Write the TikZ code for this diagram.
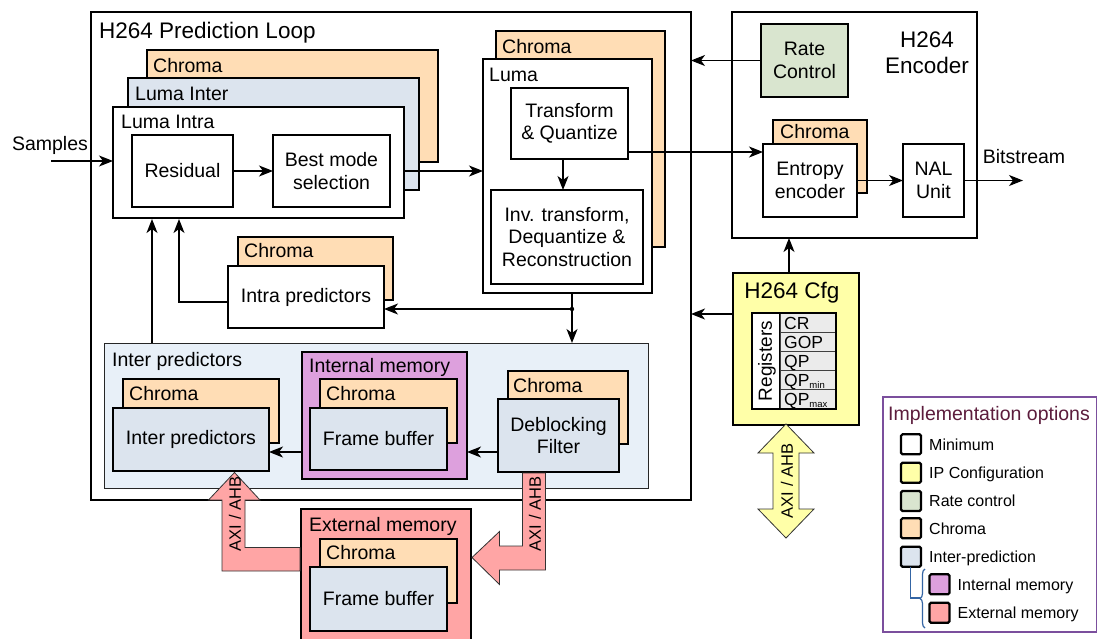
\documentclass[tikz,border=0pt]{standalone}
\usepackage{fontspec}
\setmainfont{Liberation Sans}
\usetikzlibrary{arrows.meta,decorations.pathreplacing,calc}
\definecolor{chroma}{HTML}{FFDDB5}
\definecolor{lumainter}{HTML}{DCE4EE}
\definecolor{ratec}{HTML}{D9E5CF}
\definecolor{cfgy}{HTML}{FFFFA8}
\definecolor{intm}{HTML}{DDA0DD}
\definecolor{extm}{HTML}{FFA5A5}
\definecolor{interbg}{HTML}{E8F0F8}
\definecolor{regc}{HTML}{EBEBEB}
\definecolor{legb}{HTML}{7B4F9D}
\definecolor{legt}{HTML}{5C1C3C}
\definecolor{bracec}{HTML}{3465A4}
\newcommand\mybox[7]{\node[#2,anchor=north west,inner sep=0pt,outer sep=0pt,minimum width={#5-#3},minimum height={#6-#4},align=center] (#1) at (#3,#4) {#7};}
\newcommand\mylbl[4]{\node[anchor=base west,inner sep=0pt] (#1) at (#2,#3) {#4};}
\newcommand\subt[1]{\raisebox{-2pt}{\fontsize{9.5}{9.5}\selectfont #1}}
\begin{document}
\begin{tikzpicture}[x=1pt,y=-1pt,font=\fontsize{19.5}{22.5}\selectfont,
  bx/.style={draw=black,line width=2.6pt},
  tb/.style={draw=black,line width=1.4pt},
  thinb/.style={draw=black,line width=1.2pt},
  arr/.style={line width=1.3pt,-{Stealth[length=14pt,width=11pt,inset=4pt]}},
  ln/.style={line width=1.3pt},
  fat/.style={draw=black!80,line width=0.8pt},
  leg/.style={draw=black,line width=2.2pt,rounded corners=1.5pt},
  big/.style={font=\fontsize{22.5}{26}\selectfont},
  regf/.style={font=\fontsize{17.5}{19}\selectfont},
  legf/.style={font=\fontsize{16}{18}\selectfont}]
\useasboundingbox (0,0) rectangle (1098,638);
\fill[white] (0,0) rectangle (1098,638);

% ---------- Prediction loop ----------
\mybox{loop}{thinb,fill=white}{91}{12}{691}{500}{}
\node[big,anchor=base west,inner sep=0pt] (looplbl) at (99,38) {H264 Prediction Loop};

\mybox{chA}{bx,fill=chroma}{147}{50}{438}{162}{}
\mylbl{chAl}{153}{72}{Chroma}
\mybox{lumaInter}{bx,fill=lumainter}{128}{78}{419}{190}{}
\mylbl{lumaInterl}{135}{100}{Luma Inter}
\mybox{lumaIntra}{bx,fill=white}{113}{107}{404}{218}{}
\mylbl{lumaIntral}{121}{128.5}{Luma Intra}
\mybox{residual}{tb,fill=white}{132}{135}{233}{207}{Residual}
\mybox{best}{tb,fill=white}{273}{135}{390}{207}{Best mode\\selection}
\draw[arr] (residual.east) -- (best.west);

% Samples
\node (samples) at (50,145) {Samples};
\coordinate (sampin) at (51,161);
\draw[arr] (sampin) -- (sampin -| lumaIntra.west);

% Luma transform stack
\mybox{chB}{bx,fill=chroma}{496}{31}{665}{247}{}
\mylbl{chBl}{502}{53.5}{Chroma}
\mybox{luma}{bx,fill=white}{483}{59}{652}{293}{}
\mylbl{lumal}{489}{81}{Luma}
\mybox{tq}{tb,fill=white}{511}{88}{628}{159}{Transform\\\& Quantize}
\mybox{inv}{tb,fill=white}{491}{190}{643}{284}{Inv. transform,\\ Dequantize \&\\Reconstruction}
\coordinate (tqdown) at (563,159);
\draw[arr] (tqdown) -- (tqdown |- inv.north);

\draw[arr] (lumaIntra.east |- best.east) -- (luma.west |- best.east);

% Intra predictors
\mybox{chI}{bx,fill=chroma}{238}{237}{393}{300}{}
\mylbl{chIl}{244}{257.5}{Chroma}
\mybox{intra}{bx,fill=white}{228}{266}{384}{328}{Intra predictors}
\coordinate (ia) at (228,302);
\coordinate (li1) at (179,219);
\coordinate (li2) at (152,219);
\draw[arr] (ia) -| (li1);

% junction
\coordinate (jn) at (572,309);
\draw[ln] (jn |- luma.south) -- (jn);
\draw[arr] (jn) -- (jn -| intra.east);

% Inter predictors region
\mybox{interR}{draw=black!85,line width=0.9pt,fill=interbg}{104}{343}{648}{488}{}
\mylbl{interRl}{112}{366}{Inter predictors}
\draw[arr] (jn) -- (jn |- interR.north);
\fill (jn) circle (2.2);
\draw[arr] (li2 |- interR.north) -- (li2);

\mybox{chP}{bx,fill=chroma}{123}{379}{279}{443}{}
\mylbl{chPl}{129}{400}{Chroma}
\mybox{interP}{bx,fill=lumainter}{113}{408}{269}{471}{Inter predictors}

\mybox{intMem}{bx,fill=intm}{302}{352}{467}{479}{}
\mylbl{intMeml}{309}{372}{Internal memory}
\mybox{chM}{bx,fill=chroma}{320}{379}{457}{443}{}
\mylbl{chMl}{326}{400}{Chroma}
\mybox{intFB}{bx,fill=lumainter}{310}{408}{447}{470}{Frame buffer}

\mybox{chD}{bx,fill=chroma}{508}{371}{628}{444}{}
\mylbl{chDl}{513}{392.5}{Chroma}
\mybox{deb}{bx,fill=lumainter}{498}{399}{619}{472}{Deblocking\\Filter}

\coordinate (ma) at (302,452);
\draw[arr] (ma) -- (ma -| interP.east);
\coordinate (da) at (498,452);
\draw[arr] (da) -- (da -| intMem.east);

% External memory
\mybox{extMem}{bx,fill=extm}{301}{509}{471}{648}{}
\mylbl{extMeml}{309}{531.5}{External memory}
\mybox{chX}{bx,fill=chroma}{320}{539}{457}{603}{}
\mylbl{chXl}{326}{559.5}{Chroma}
\mybox{extFB}{bx,fill=lumainter}{310}{567}{447}{631}{Frame buffer}

% fat AXI arrows
\draw[fat,fill=extm] (300,547.5) -- (245,547.5) -- (245,500) -- (260,500) -- (234.5,472.5) -- (208.5,500) -- (222,500) -- (222,571) -- (300,571) -- cycle;
\node[rotate=90,font=\fontsize{16.5}{18}\selectfont] (axiL) at (235,514) {AXI / AHB};
\draw[fat,fill=extm] (522.5,473) -- (545.5,473) -- (545.5,570) -- (499.5,570) -- (499.5,584.5) -- (472,557.5) -- (499.5,531.5) -- (499.5,546) -- (522.5,546) -- cycle;
\node[rotate=90,font=\fontsize{16.5}{18}\selectfont] (axiR) at (535,514) {AXI / AHB};

% ---------- Encoder ----------
\mybox{enc}{bx,fill=white}{732}{12}{977}{238}{}
\node[big,align=center,inner sep=0pt] (encl) at (927,53) {H264\\Encoder};
\mybox{rate}{bx,fill=ratec}{761}{24}{848}{97}{Rate\\Control}
\draw[arr] (rate.west) -- (rate.west -| loop.east);
\mybox{chE}{bx,fill=chroma}{773}{120}{867}{193}{}
\mylbl{chEl}{780}{138.5}{Chroma}
\mybox{entropy}{bx,fill=white}{763}{144}{857}{217}{Entropy\\encoder}
\mybox{nal}{bx,fill=white}{903}{144}{964}{217}{NAL\\Unit}
\coordinate (tqout) at (628,152);
\draw[arr] (tqout) -- (tqout -| entropy.west);
\draw[arr] (entropy.east) -- (nal.west);
\coordinate (bsend) at (1023,180.5);
\draw[arr] (nal.east) -- (bsend);
\node (bitstream) at (1024,157) {Bitstream};

% ---------- Cfg ----------
\mybox{cfg}{bx,fill=cfgy}{733}{273}{859}{425}{}
\node[big,inner sep=0pt] (cfgl) at (792,293) {H264 Cfg};
\coordinate (cfgtop) at (789,273);
\draw[arr] (cfgtop) -- (cfgtop |- enc.south);
\coordinate (cfgleft) at (733,314);
\draw[arr] (cfgleft) -- (cfgleft -| loop.east);

\mybox{regn}{draw=black,line width=1.2pt,fill=white}{752}{313}{780}{409}{}
\node[rotate=90,inner sep=0pt,font=\fontsize{19}{20}\selectfont] (regnl) at (767,361) {Registers};
\mybox{r1}{draw=black!75,line width=0.9pt,fill=regc}{780}{313}{836}{332.2}{}
\mybox{r2}{draw=black!75,line width=0.9pt,fill=regc}{780}{332.2}{836}{351.4}{}
\mybox{r3}{draw=black!75,line width=0.9pt,fill=regc}{780}{351.4}{836}{370.6}{}
\mybox{r4}{draw=black!75,line width=0.9pt,fill=regc}{780}{370.6}{836}{389.8}{}
\mybox{r5}{draw=black!75,line width=0.9pt,fill=regc}{780}{389.8}{836}{409}{}
\draw[line width=1.2pt] (regn.north west) rectangle (r5.south east);
\node[regf,anchor=base west,inner sep=0pt] (r1l) at (784,329) {CR};
\node[regf,anchor=base west,inner sep=0pt] (r2l) at (784,348.2) {GOP};
\node[regf,anchor=base west,inner sep=0pt] (r3l) at (784,367.4) {QP};
\node[regf,anchor=base west,inner sep=0pt] (r4l) at (784,386.6) {QP\subt{min}};
\node[regf,anchor=base west,inner sep=0pt] (r5l) at (784,405.8) {QP\subt{max}};

\draw[fat,fill=cfgy] (786,424) -- (814,453) -- (799,453) -- (799,509) -- (814,509) -- (786,538) -- (758,509) -- (773,509) -- (773,453) -- (758,453) -- cycle;
\node[rotate=90,font=\fontsize{16.5}{18}\selectfont] (axiC) at (787,481) {AXI / AHB};

% ---------- Legend ----------
\mybox{legend}{draw=legb,line width=1.2pt,fill=white}{883}{397}{1096.5}{632}{}
\node[anchor=base west,inner sep=0pt,text=legt] (legtitle) at (888,420) {Implementation options};
\mybox{lg1}{leg,fill=white}{901}{434.3}{921}{454.3}{}
\mybox{lg2}{leg,fill=cfgy}{901}{462.7}{921}{482.7}{}
\mybox{lg3}{leg,fill=ratec}{901}{491}{921}{511}{}
\mybox{lg4}{leg,fill=chroma}{901}{518.3}{921}{538.3}{}
\mybox{lg5}{leg,fill=lumainter}{901}{546.7}{921}{566.7}{}
\mybox{lg6}{leg,fill=intm}{929.5}{574.3}{949.5}{594.3}{}
\mybox{lg7}{leg,fill=extm}{929.5}{602.7}{949.5}{622.7}{}
\node[legf,anchor=base west,inner sep=0pt] (lg1l) at (929,450) {Minimum};
\node[legf,anchor=base west,inner sep=0pt] (lg2l) at (929,478.4) {IP Configuration};
\node[legf,anchor=base west,inner sep=0pt] (lg3l) at (929,506.7) {Rate control};
\node[legf,anchor=base west,inner sep=0pt] (lg4l) at (929,534) {Chroma};
\node[legf,anchor=base west,inner sep=0pt] (lg5l) at (929,562.4) {Inter-prediction};
\node[legf,anchor=base west,inner sep=0pt] (lg6l) at (957.5,590) {Internal memory};
\node[legf,anchor=base west,inner sep=0pt] (lg7l) at (957.5,618.4) {External memory};
\coordinate (brtip) at (920,598);
\draw[bracec,line width=1.2pt] (lg5.south -| 910.7,0) -- (910.7,598) -- (brtip);
\draw[bracec,line width=1.2pt,decorate,decoration={brace,amplitude=5pt}] (925,628) -- (925,569);
\end{tikzpicture}
\end{document}
